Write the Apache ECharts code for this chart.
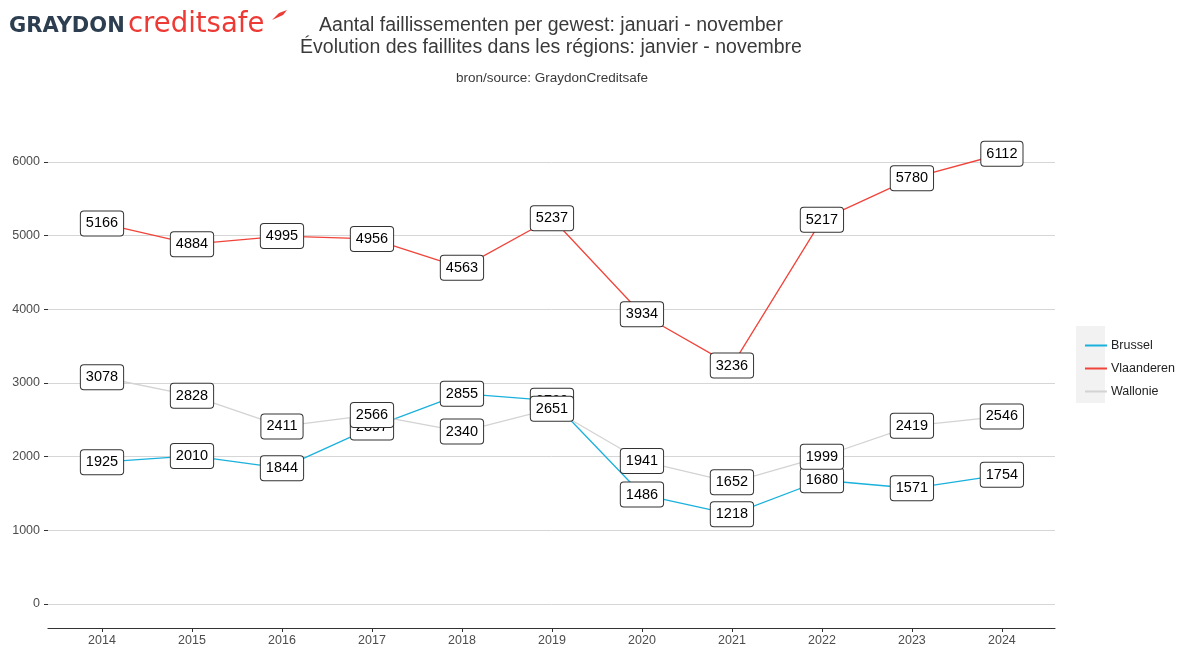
<!DOCTYPE html>
<html><head><meta charset="utf-8">
<script src="https://cdn.jsdelivr.net/npm/echarts@6/dist/echarts.min.js"></script>
<style>html,body{margin:0;padding:0;background:#fff}#c{width:1179px;height:647px}</style>
</head><body><div id="c"></div>
<script>
const years = [2014,2015,2016,2017,2018,2019,2020,2021,2022,2023,2024];
const brussel = [1925,2010,1844,2397,2855,2760,1486,1218,1680,1571,1754];
const vlaanderen = [5166,4884,4995,4956,4563,5237,3934,3236,5217,5780,6112];
const wallonie = [3078,2828,2411,2566,2340,2651,1941,1652,1999,2419,2546];
const seriesNames = ['Brussel','Vlaanderen','Wallonie'];

const font = 'Liberation Sans, Arial, sans-serif';
const pairs = arr => years.map((y,i)=>[y,arr[i]]);
const mk = (name, data, color) => ({
  name, type:'line', data: pairs(data), clip:false,
  symbol:'circle', symbolSize:0.5, showSymbol:true,
  lineStyle:{color, width:1.3}, itemStyle:{color},
  label:{show:true, position:'inside', formatter: p=>p.value[1],
    color:'#000', fontSize:14.5, fontFamily:font,
    backgroundColor:'#fff', borderColor:'#333', borderWidth:1, borderRadius:3,
    padding:[5,5,4,5]},
  emphasis:{disabled:true}, animation:false
});
const chart = echarts.init(document.getElementById('c'));
chart.setOption({
  animation:false,
  textStyle:{fontFamily:font},
  grid:{left:48, right:124, top:162, bottom:43, containLabel:false},
  xAxis:{type:'value', min:2013.4, max:2024.59, offset:24,
    axisLine:{show:true, onZero:false, lineStyle:{color:'#333', width:1.2}},
    axisTick:{show:true, length:4, customValues:years, lineStyle:{color:'#333'}},
    axisLabel:{customValues:years, color:'#4d4d4d', fontSize:12.5, margin:6, formatter:v=>String(v)},
    splitLine:{show:false}},
  yAxis:{type:'value', min:0, max:6000, interval:1000,
    axisLine:{show:false},
    axisTick:{show:true, length:4, lineStyle:{color:'#333'}},
    axisLabel:{color:'#4d4d4d', fontSize:12.5, margin:8, formatter:v=>String(v)},
    splitLine:{show:true, lineStyle:{color:'#d6d6d6', width:1}}},
  legend:{orient:'vertical', left:1080, top:334, itemWidth:22, itemHeight:2, itemGap:10,
    icon:'rect', textStyle:{fontSize:12.5, color:'#222', fontFamily:font, padding:[0,0,0,-1]},
    data:seriesNames},
  graphic:[
    {type:'rect', left:1076, top:326, shape:{width:29, height:77}, style:{fill:'#f2f2f2'}, z:-1},
    {type:'text', x:551, y:15, style:{text:'Aantal faillissementen per gewest: januari - november\nÉvolution des faillites dans les régions: janvier - novembre',
      font:'19.5px '+font, fill:'#3a3a3a', align:'center', lineHeight:22}},
    {type:'text', x:552, y:71, style:{text:'bron/source: GraydonCreditsafe', font:'13.5px '+font, fill:'#3a3a3a', align:'center'}},
    {type:'text', left:9, top:16, style:{text:'GRAYDON', font:'bold 21px DejaVu Sans, sans-serif', fill:'#2c3e50'}},
    {type:'text', left:128, top:11, style:{text:'creditsafe', font:'27.5px DejaVu Sans, sans-serif', fill:'#ee3a34'}},
    {type:'polygon', shape:{points:[[272,20],[279,13],[287,10],[283,15]]}, style:{fill:'#ee3a34'}}
  ],
  series:[mk('Brussel', brussel, '#1ab1dc'), mk('Vlaanderen', vlaanderen, '#f0443a'), mk('Wallonie', wallonie, '#d3d3d3')]
});
</script></body></html>
